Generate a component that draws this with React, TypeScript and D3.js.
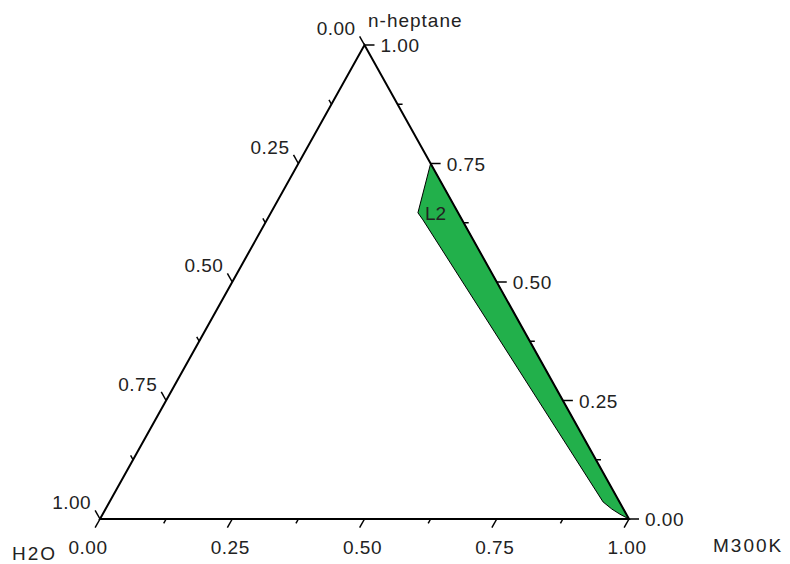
import * as d3 from "d3";

// ternary data: fractions of H2O, M300K, n-heptane
const majorTicks = [0, 0.25, 0.5, 0.75, 1];
const minorTicks = [0.125, 0.375, 0.625, 0.875];
const tickLabels = ["0.00", "0.25", "0.50", "0.75", "1.00"];

// L2 region boundary (phase envelope)
const l2H2O = [0, 0.076, 0.074, 0.031, 0.022, 0.012, 0];
const l2M300K = [0.25, 0.278, 0.295, 0.933, 0.957, 0.978, 1];
const l2Heptane = [0.75, 0.646, 0.631, 0.036, 0.021, 0.01, 0];

const W = 790;
const H = 564;
const FONT = "'Liberation Sans', Arial, sans-serif";

const xScale = d3.scaleLinear().domain([0, 1]).range([100, 629]);
const yScale = d3.scaleLinear().domain([0, 1]).range([519, 45]);

// (h2o, m300k, heptane) -> pixel
const project = (a: number, b: number, c: number): [number, number] => {
  const s = a + b + c;
  return [xScale((b + c / 2) / s), yScale(c / s)];
};

const norm = (dx: number, dy: number): [number, number] => {
  const l = Math.hypot(dx, dy);
  return [dx / l, dy / l];
};

export default function App() {
  const pL = project(1, 0, 0);
  const pR = project(0, 1, 0);
  const pT = project(0, 0, 1);

  // tick directions, parallel to the neighbouring edge, pointing out
  const dirBottom = norm(pL[0] - pT[0], pL[1] - pT[1]);
  const dirLeft = norm(pT[0] - pR[0], pT[1] - pR[1]);
  const dirRight: [number, number] = [1, 0];

  const axes = [
    { name: "bottom", pos: (t: number) => project(1 - t, t, 0), dir: dirBottom },
    { name: "left", pos: (t: number) => project(t, 0, 1 - t), dir: dirLeft },
    { name: "right", pos: (t: number) => project(0, 1 - t, t), dir: dirRight },
  ];

  const majorLen = 10;
  const minorLen = 5;

  const region = l2H2O.map((a, i) => project(a, l2M300K[i], l2Heptane[i]));
  const line = d3.line().curve(d3.curveLinearClosed);
  const labelAt = region[1];

  return (
    <svg
      width={W}
      height={H}
      style={{ position: "absolute", left: 0, top: 0, background: "#fff" }}
      fontFamily={FONT}
    >
      <path d={line(region) ?? ""} fill="#22b04b" stroke="#000" strokeWidth={1} />
      <text x={labelAt[0] + 7} y={labelAt[1] + 7} fontSize={19} fill="#222">
        L2
      </text>

      <path
        d={`M${pL[0]},${pL[1]}L${pR[0]},${pR[1]}L${pT[0]},${pT[1]}Z`}
        fill="none"
        stroke="#000"
        strokeWidth={2}
        strokeLinejoin="miter"
      />

      {axes.map((ax) => (
        <g key={ax.name}>
          {majorTicks.map((t, i) => {
            const [x, y] = ax.pos(t);
            const ex = x + ax.dir[0] * majorLen;
            const ey = y + ax.dir[1] * majorLen;
            let lx = ex;
            let ly = ey;
            let anchor: "start" | "middle" | "end" = "start";
            if (ax.name === "right") {
              lx = ex + 6;
              ly = ey + 7;
            } else if (ax.name === "left") {
              lx = ex - 4;
              ly = ey - 1;
              anchor = "end";
            } else {
              lx = x - (t === 0 ? 12 : 2);
              ly = 554;
              anchor = "middle";
            }
            return (
              <g key={i}>
                <line x1={x} y1={y} x2={ex} y2={ey} stroke="#000" strokeWidth={1.5} />
                <text
                  x={lx}
                  y={ly}
                  textAnchor={anchor}
                  fontSize={19}
                  fill="#222"
                  letterSpacing={0.5}
                >
                  {tickLabels[i]}
                </text>
              </g>
            );
          })}
          {minorTicks.map((t, i) => {
            const [x, y] = ax.pos(t);
            return (
              <line
                key={i}
                x1={x}
                y1={y}
                x2={x + ax.dir[0] * minorLen}
                y2={y + ax.dir[1] * minorLen}
                stroke="#000"
                strokeWidth={1.5}
              />
            );
          })}
        </g>
      ))}

      <text x={368} y={27} fontSize={19} fill="#222" letterSpacing={1}>
        n-heptane
      </text>
      <text x={12} y={560} fontSize={19} fill="#222" letterSpacing={2}>
        H2O
      </text>
      <text x={713} y={552} fontSize={19} fill="#222" letterSpacing={2}>
        M300K
      </text>
    </svg>
  );
}
